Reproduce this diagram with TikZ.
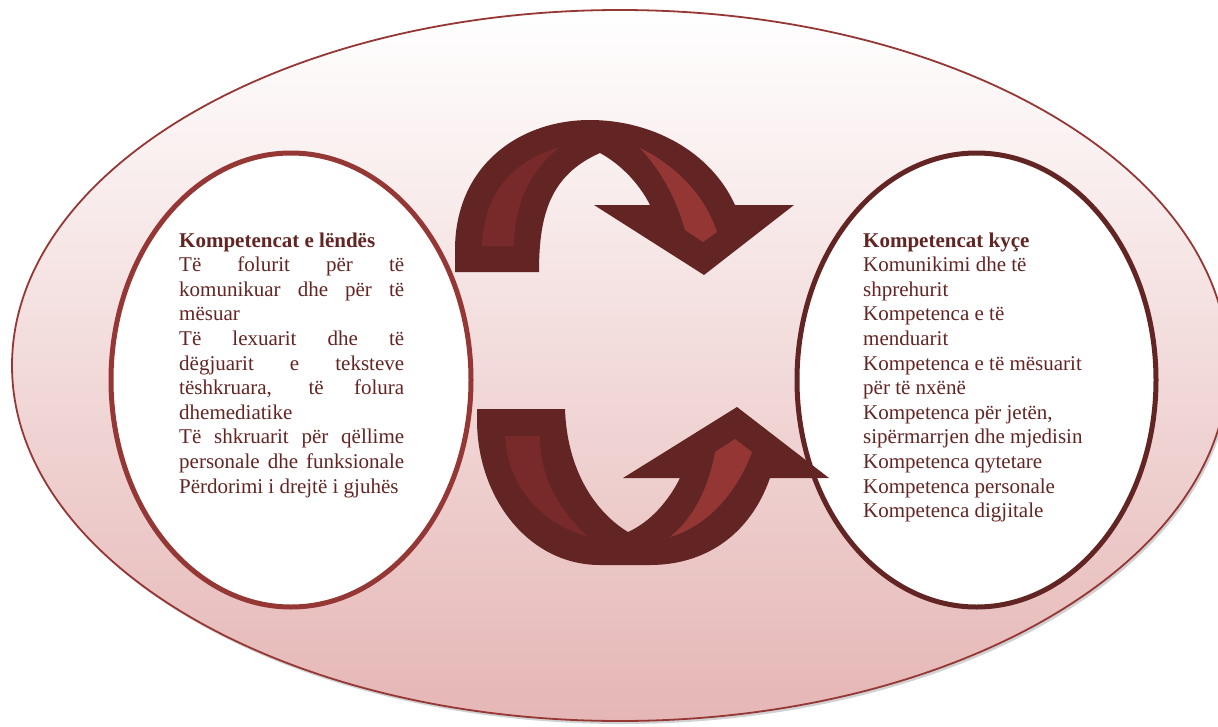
\documentclass[tikz,border=0pt]{standalone}
\usepackage{fontspec}
\setmainfont{Liberation Serif}
\definecolor{dkred}{HTML}{632523}
\definecolor{mdred}{HTML}{953735}
\definecolor{bandL}{HTML}{772A29}
\definecolor{bandR}{HTML}{933634}
\definecolor{pinkbot}{HTML}{E5B6B5}
\begin{document}
\begin{tikzpicture}[x=1pt,y=-1pt,
  txt/.style={inner sep=0pt, anchor=base west, text=dkred},
  arrowbody/.style={fill=dkred},
  leftband/.style={fill=bandL},
  rightband/.style={fill=bandR},
  inner ell/.style={line width=5pt, fill=white}]
\useasboundingbox (0,0) rectangle (1218,726);
\fill[white] (0,0) rectangle (1218,726);
% outer ellipse with soft shadow
\fill[black!40, opacity=0.45] (622,368.5) ellipse [x radius=608, y radius=355.5];
\shade[top color=white, bottom color=pinkbot, draw=mdred, line width=1.8pt]
  (620,365.5) ellipse [x radius=608, y radius=355.5];
% inner ellipses
\draw[inner ell, draw=mdred] (291,380) ellipse [x radius=180, y radius=227];
\draw[inner ell, draw=dkred] (976.5,380) ellipse [x radius=179.5, y radius=227];
% top curved arrow
\path[arrowbody] (455,272) -- (455,250) .. controls (455,165) and (520,120) .. (590,120)
  .. controls (650,120) and (710,150) .. (735,205) -- (794,205) -- (704,275) -- (594,205)
  -- (650,205) .. controls (640,185) and (622,165) .. (600,153)
  .. controls (550,175) and (539,215) .. (539,272) -- cycle;
\path[leftband] (482,246) .. controls (484,190) and (515,160) .. (560,147)
  .. controls (530,170) and (514,205) .. (514,246) -- cycle;
\path[rightband] (640,148) .. controls (675,165) and (705,195) .. (717,232) -- (703,242)
  -- (685,230) .. controls (675,195) and (660,170) .. (640,148) -- cycle;
% bottom curved arrow
\path[arrowbody] (477,409) -- (565,409) .. controls (567,470) and (595,512) .. (628,532)
  .. controls (650,522) and (668,502) .. (680,478) -- (623,478) -- (737,407) -- (829,478)
  -- (770,478) .. controls (750,535) and (705,565) .. (650,565) -- (600,565)
  .. controls (528,565) and (477,497) .. (477,420) -- cycle;
\path[leftband] (505,436) .. controls (508,490) and (545,525) .. (588,537)
  .. controls (560,510) and (540,480) .. (540,436) -- cycle;
\path[rightband] (670,537) .. controls (710,525) and (738,490) .. (752,452) -- (735,439)
  -- (715,452) .. controls (708,490) and (693,518) .. (670,537) -- cycle;
% texts
\node[txt] (lt) at (179,247) {\parbox[t]{225pt}{\fontsize{21}{24.6}\selectfont
  \textbf{Kompetencat e lëndës}\\
  \makebox[\linewidth][s]{Të folurit për të}\\
  \makebox[\linewidth][s]{komunikuar dhe për të}\\
  mësuar\\
  \makebox[\linewidth][s]{Të lexuarit dhe të}\\
  \makebox[\linewidth][s]{dëgjuarit e teksteve}\\
  \makebox[\linewidth][s]{tëshkruara, të folura}\\
  dhemediatike\\
  \makebox[\linewidth][s]{Të shkruarit për qëllime}\\
  \makebox[\linewidth][s]{personale dhe funksionale}\\
  Përdorimi i drejtë i gjuhës}};
\node[txt] (rt) at (863,247) {\parbox[t]{260pt}{\fontsize{21}{24.6}\selectfont\raggedright
  \textbf{Kompetencat kyçe}\\
  Komunikimi dhe të\\
  shprehurit\\
  Kompetenca e të\\
  menduarit\\
  Kompetenca e të mësuarit\\
  për të nxënë\\
  Kompetenca për jetën,\\
  sipërmarrjen dhe mjedisin\\
  Kompetenca qytetare\\
  Kompetenca personale\\
  Kompetenca digjitale}};
\end{tikzpicture}
\end{document}
